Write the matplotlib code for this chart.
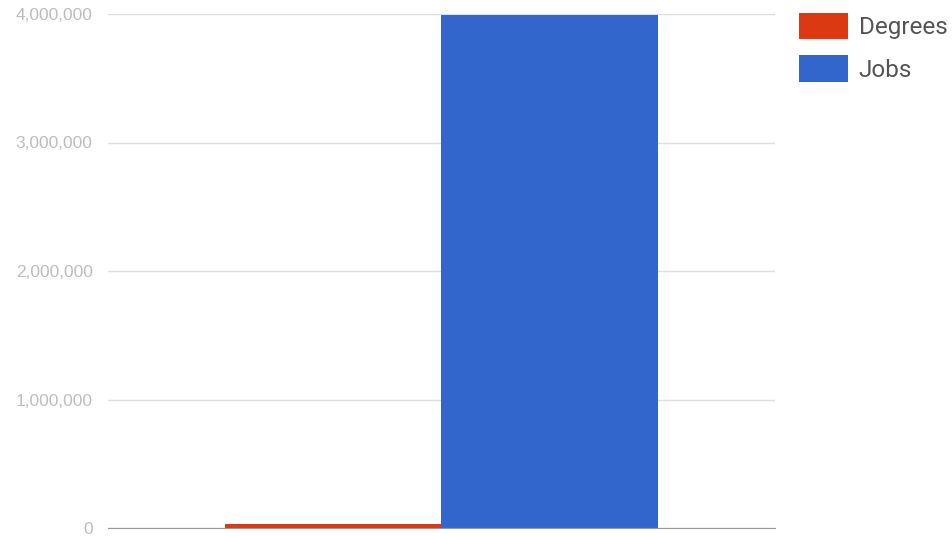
import numpy as np
import matplotlib
matplotlib.use('Agg')
import matplotlib.pyplot as plt
from matplotlib.ticker import FuncFormatter

series = ["Degrees", "Jobs"]
values = [35000, 3990000]
colors = ["#DC3912", "#3366CC"]
yticks = [0, 1000000, 2000000, 3000000, 4000000]

fig = plt.figure(figsize=(9.53, 5.36), dpi=100)
ax = fig.add_axes([108/953, 1-528/536, (775-108)/953, (528-14)/536])

bar_w = 0.325
offsets = np.array([-0.5, 0.5]) * bar_w
for off, v, c, name in zip(offsets, values, colors, series):
    ax.bar(off, v, width=bar_w, color=c, label=name, zorder=3)

ax.set_xlim(-0.5, 0.5)
ax.set_ylim(0, 4000000)
ax.set_yticks(yticks)
ax.yaxis.set_major_formatter(FuncFormatter(lambda v, p: f"{int(v):,}"))
ax.set_xticks([])
ax.grid(axis='y', color='#dedede', linewidth=1, zorder=0)
for s in ['top', 'right', 'left']:
    ax.spines[s].set_visible(False)
ax.spines['bottom'].set_color('#999999')
ax.spines['bottom'].set_zorder(4)
ax.tick_params(axis='y', length=0, pad=11, labelsize=12.5, labelcolor='#bdbdbd')
for t in ax.get_yticklabels():
    t.set_fontfamily('Liberation Sans')

leg = ax.legend(loc='upper left', bbox_to_anchor=(799/953, 1-13/536),
                bbox_transform=fig.transFigure, frameon=False,
                prop={'family': 'Roboto', 'size': 17.5},
                handlelength=2.0, handleheight=1.3, handletextpad=0.45,
                labelspacing=0.65, borderpad=0, borderaxespad=0)
for t in leg.get_texts():
    t.set_color('#555555')

fig.savefig('out.png', dpi=100)
